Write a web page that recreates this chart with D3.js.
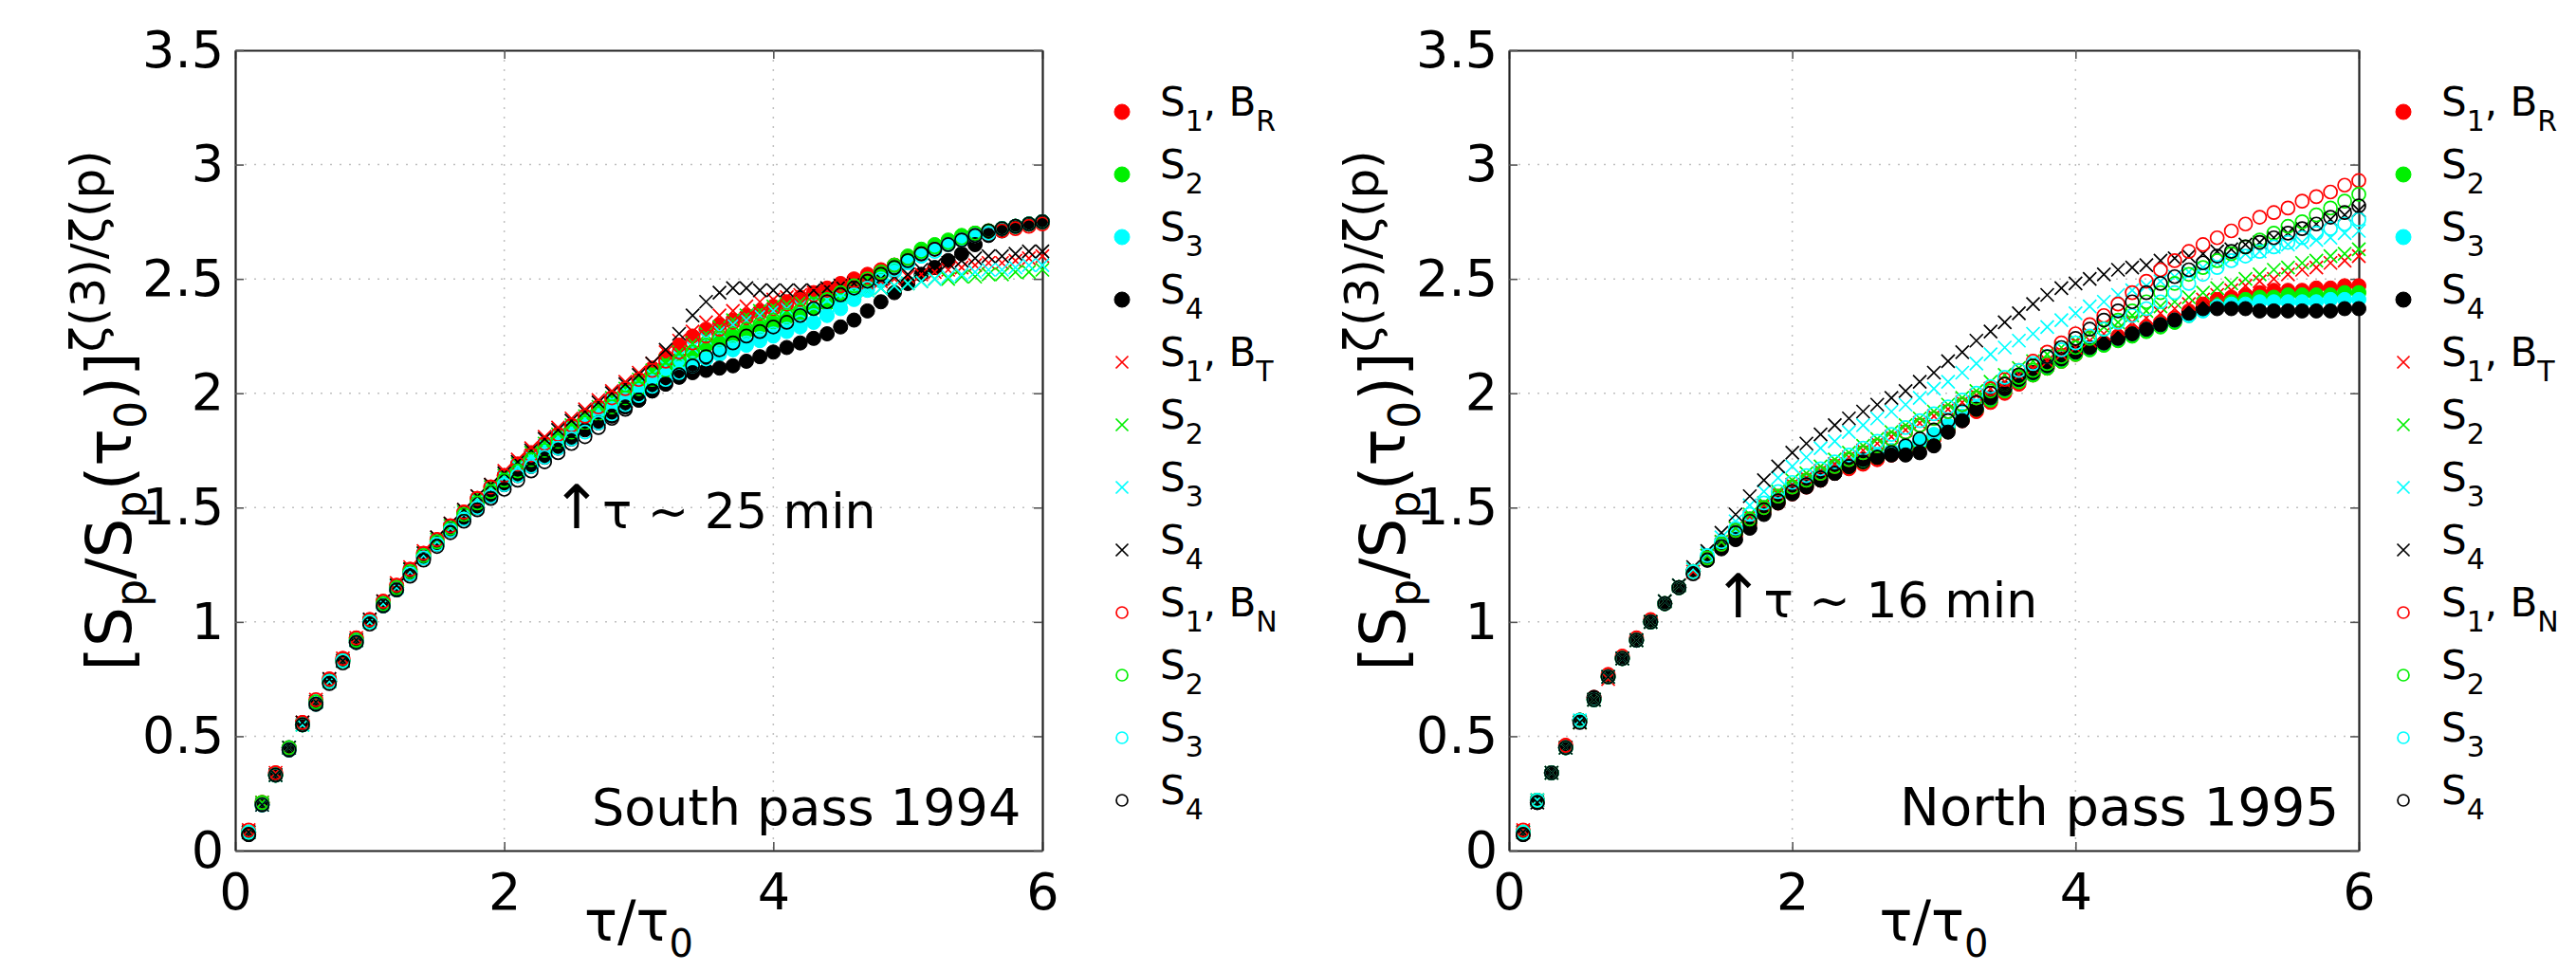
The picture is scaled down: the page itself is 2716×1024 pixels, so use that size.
<!DOCTYPE html>
<html><head><meta charset="utf-8">
<script src="https://cdn.jsdelivr.net/npm/d3@7"></script>
<style>
body{margin:0;background:#fff}
svg text{font-family:"DejaVu Sans",Verdana,sans-serif;fill:#000}
</style>
</head><body>
<svg id="c" width="2716" height="1024"></svg>
<script>
// ---------- data ----------
const tau = [0.1,0.2,0.3,0.4,0.5,0.6,0.7,0.8,0.9,1.0,1.1,1.2,1.3,1.4,1.5,1.6,1.7,1.8,1.9,2.0,
 2.1,2.2,2.3,2.4,2.5,2.6,2.7,2.8,2.9,3.0,3.1,3.2,3.3,3.4,3.5,3.6,3.7,3.8,3.9,4.0,
 4.1,4.2,4.3,4.4,4.5,4.6,4.7,4.8,4.9,5.0,5.1,5.2,5.3,5.4,5.5,5.6,5.7,5.8,5.9,6.0];

// South pass 1994
const south_BR_S1 = [0.08,0.21,0.34,0.45,0.56,0.65,0.75,0.84,0.93,1.01, 1.09,1.16,1.23,1.30,1.36,1.42,1.48,1.54,1.59,1.64, 1.69,1.74,1.78,1.82,1.86,1.90,1.94,1.98,2.02,2.06, 2.11,2.16,2.21,2.25,2.28,2.30,2.32,2.34,2.36,2.38, 2.40,2.42,2.44,2.46,2.48,2.50,2.52,2.54,2.56,2.59, 2.62,2.64,2.66,2.68,2.70,2.71,2.72,2.73,2.74,2.75];
const south_BR_S2 = [0.08,0.21,0.33,0.45,0.55,0.65,0.74,0.83,0.92,1.00, 1.08,1.15,1.22,1.29,1.35,1.41,1.47,1.53,1.58,1.63, 1.68,1.72,1.76,1.80,1.84,1.88,1.92,1.96,2.00,2.04, 2.08,2.12,2.15,2.18,2.21,2.23,2.25,2.27,2.29,2.31, 2.33,2.35,2.37,2.39,2.42,2.45,2.48,2.52,2.56,2.60, 2.63,2.65,2.67,2.69,2.70,2.71,2.72,2.73,2.74,2.75];
const south_BR_S3 = [0.08,0.20,0.33,0.45,0.55,0.65,0.74,0.83,0.92,1.00, 1.08,1.15,1.22,1.29,1.35,1.41,1.46,1.52,1.57,1.62, 1.66,1.70,1.74,1.78,1.82,1.86,1.90,1.94,1.97,2.01, 2.05,2.08,2.11,2.13,2.15,2.17,2.19,2.21,2.23,2.25, 2.27,2.29,2.31,2.34,2.37,2.41,2.45,2.49,2.53,2.57, 2.60,2.63,2.65,2.67,2.69,2.70,2.72,2.73,2.74,2.75];
const south_BR_S4 = [0.07,0.20,0.33,0.44,0.55,0.64,0.74,0.83,0.91,1.00, 1.07,1.14,1.21,1.28,1.34,1.40,1.45,1.50,1.55,1.60, 1.64,1.68,1.72,1.76,1.80,1.84,1.87,1.90,1.94,1.97, 2.01,2.04,2.07,2.09,2.10,2.11,2.12,2.14,2.16,2.18, 2.20,2.22,2.24,2.26,2.29,2.32,2.36,2.40,2.44,2.48, 2.52,2.55,2.58,2.61,2.65,2.69,2.71,2.73,2.74,2.75];
const south_BT_S1 = [0.09,0.21,0.34,0.45,0.56,0.66,0.75,0.84,0.93,1.01, 1.09,1.17,1.24,1.31,1.37,1.43,1.49,1.55,1.60,1.66, 1.71,1.76,1.81,1.85,1.89,1.93,1.97,2.01,2.05,2.09, 2.13,2.18,2.23,2.27,2.31,2.34,2.36,2.38,2.40,2.41, 2.42,2.43,2.44,2.45,2.46,2.47,2.48,2.49,2.50,2.51, 2.52,2.53,2.54,2.55,2.56,2.57,2.57,2.58,2.59,2.60];
const south_BT_S2 = [0.08,0.21,0.33,0.45,0.55,0.65,0.74,0.83,0.92,1.00, 1.08,1.16,1.23,1.30,1.36,1.42,1.48,1.53,1.59,1.64, 1.69,1.74,1.78,1.82,1.86,1.90,1.94,1.98,2.02,2.06, 2.10,2.14,2.18,2.22,2.26,2.29,2.32,2.34,2.36,2.38, 2.39,2.40,2.41,2.42,2.43,2.44,2.45,2.46,2.47,2.48, 2.49,2.50,2.50,2.51,2.51,2.52,2.52,2.53,2.53,2.54];
const south_BT_S3 = [0.08,0.20,0.33,0.45,0.55,0.65,0.74,0.83,0.92,1.00, 1.08,1.15,1.22,1.29,1.35,1.41,1.47,1.53,1.58,1.63, 1.68,1.72,1.77,1.81,1.85,1.89,1.93,1.97,2.01,2.04, 2.08,2.12,2.16,2.20,2.24,2.27,2.30,2.32,2.34,2.36, 2.37,2.38,2.40,2.41,2.42,2.44,2.45,2.46,2.47,2.48, 2.49,2.50,2.51,2.52,2.53,2.54,2.54,2.55,2.56,2.56];
const south_BT_S4 = [0.08,0.20,0.33,0.45,0.56,0.65,0.75,0.83,0.92,1.01, 1.09,1.16,1.23,1.30,1.37,1.43,1.49,1.55,1.60,1.65, 1.70,1.75,1.80,1.84,1.88,1.92,1.96,2.00,2.04,2.08, 2.13,2.19,2.26,2.34,2.40,2.44,2.46,2.46,2.45,2.45, 2.45,2.45,2.45,2.46,2.47,2.48,2.49,2.50,2.51,2.52, 2.54,2.56,2.57,2.58,2.59,2.60,2.60,2.61,2.62,2.62];
const south_BN_S1 = [0.09,0.21,0.34,0.45,0.56,0.66,0.75,0.84,0.93,1.01, 1.09,1.16,1.23,1.30,1.36,1.42,1.48,1.54,1.59,1.64, 1.69,1.73,1.78,1.82,1.86,1.90,1.94,1.98,2.02,2.06, 2.10,2.14,2.18,2.22,2.25,2.28,2.31,2.33,2.35,2.37, 2.39,2.41,2.43,2.45,2.47,2.49,2.51,2.53,2.56,2.59, 2.61,2.63,2.65,2.67,2.69,2.70,2.71,2.72,2.73,2.74];
const south_BN_S2 = [0.08,0.21,0.33,0.45,0.55,0.65,0.74,0.83,0.92,1.00, 1.08,1.15,1.22,1.29,1.35,1.41,1.47,1.52,1.57,1.62, 1.66,1.71,1.75,1.79,1.83,1.87,1.91,1.94,1.98,2.02, 2.06,2.10,2.14,2.18,2.21,2.24,2.26,2.28,2.30,2.32, 2.34,2.36,2.39,2.41,2.44,2.47,2.50,2.53,2.56,2.59, 2.62,2.64,2.66,2.68,2.70,2.71,2.72,2.73,2.74,2.75];
const south_BN_S3 = [0.08,0.20,0.33,0.44,0.55,0.64,0.74,0.83,0.91,1.00, 1.07,1.14,1.21,1.28,1.34,1.40,1.45,1.50,1.55,1.60, 1.64,1.68,1.72,1.76,1.80,1.83,1.87,1.91,1.95,1.99, 2.03,2.06,2.09,2.12,2.15,2.18,2.20,2.22,2.24,2.26, 2.28,2.31,2.34,2.37,2.40,2.43,2.46,2.50,2.54,2.57, 2.60,2.62,2.65,2.67,2.69,2.70,2.72,2.73,2.74,2.75];
const south_BN_S4 = [0.07,0.20,0.33,0.44,0.55,0.64,0.73,0.82,0.91,0.99, 1.07,1.14,1.20,1.27,1.33,1.39,1.44,1.49,1.54,1.58, 1.62,1.66,1.70,1.74,1.78,1.81,1.85,1.89,1.93,1.97, 2.01,2.04,2.08,2.12,2.16,2.19,2.22,2.25,2.27,2.29, 2.31,2.34,2.37,2.40,2.43,2.46,2.49,2.52,2.55,2.58, 2.61,2.63,2.65,2.67,2.69,2.71,2.72,2.73,2.74,2.75];

// North pass 1995
const north_BR_S1 = [0.08,0.22,0.34,0.46,0.57,0.67,0.77,0.85,0.93,1.01, 1.08,1.15,1.22,1.28,1.33,1.38,1.43,1.48,1.52,1.56, 1.59,1.62,1.65,1.67,1.69,1.71,1.73,1.75,1.77,1.80, 1.84,1.88,1.92,1.96,2.00,2.04,2.08,2.11,2.14,2.17, 2.20,2.22,2.25,2.27,2.29,2.31,2.33,2.36,2.39,2.41, 2.42,2.43,2.44,2.45,2.45,2.45,2.46,2.46,2.47,2.47];
const north_BR_S2 = [0.08,0.22,0.34,0.45,0.57,0.66,0.76,0.84,0.92,1.00, 1.08,1.15,1.22,1.28,1.34,1.39,1.44,1.49,1.53,1.57, 1.60,1.63,1.66,1.68,1.70,1.72,1.74,1.76,1.78,1.81, 1.85,1.89,1.93,1.97,2.01,2.05,2.08,2.11,2.14,2.17, 2.19,2.21,2.23,2.25,2.27,2.29,2.31,2.34,2.37,2.39, 2.40,2.41,2.42,2.42,2.43,2.43,2.43,2.43,2.44,2.44];
const north_BR_S3 = [0.08,0.22,0.34,0.45,0.57,0.66,0.76,0.84,0.92,1.00, 1.08,1.15,1.22,1.28,1.34,1.40,1.45,1.50,1.54,1.58, 1.61,1.64,1.67,1.69,1.71,1.73,1.75,1.77,1.79,1.82, 1.86,1.90,1.94,1.98,2.02,2.06,2.09,2.12,2.15,2.18, 2.20,2.22,2.24,2.26,2.28,2.30,2.32,2.34,2.36,2.38, 2.39,2.39,2.40,2.40,2.40,2.40,2.40,2.41,2.41,2.41];
const north_BR_S4 = [0.07,0.21,0.34,0.45,0.57,0.67,0.76,0.84,0.92,1.00, 1.08,1.15,1.22,1.27,1.32,1.36,1.41,1.47,1.52,1.56, 1.59,1.62,1.65,1.68,1.71,1.72,1.73,1.73,1.74,1.77, 1.83,1.88,1.93,1.98,2.02,2.06,2.09,2.12,2.15,2.18, 2.20,2.22,2.24,2.26,2.28,2.30,2.32,2.35,2.37,2.37, 2.37,2.37,2.36,2.36,2.36,2.36,2.36,2.36,2.37,2.37];
const north_BT_S1 = [0.09,0.22,0.34,0.45,0.56,0.66,0.75,0.84,0.92,1.00, 1.09,1.16,1.22,1.29,1.35,1.41,1.46,1.51,1.56,1.60, 1.63,1.66,1.69,1.72,1.75,1.78,1.81,1.84,1.87,1.90, 1.93,1.96,1.99,2.02,2.05,2.08,2.11,2.14,2.17,2.20, 2.23,2.26,2.28,2.31,2.33,2.35,2.37,2.39,2.41,2.43, 2.45,2.47,2.49,2.50,2.52,2.54,2.55,2.57,2.58,2.60];
const north_BT_S2 = [0.08,0.22,0.34,0.45,0.56,0.66,0.76,0.84,0.92,1.00, 1.09,1.16,1.23,1.29,1.35,1.41,1.47,1.52,1.57,1.62, 1.65,1.68,1.71,1.74,1.77,1.80,1.83,1.86,1.89,1.92, 1.95,1.98,2.01,2.05,2.08,2.11,2.14,2.17,2.20,2.23, 2.26,2.29,2.31,2.34,2.36,2.38,2.40,2.42,2.44,2.46, 2.48,2.50,2.52,2.54,2.55,2.57,2.58,2.60,2.61,2.63];
const north_BT_S3 = [0.08,0.22,0.34,0.45,0.57,0.66,0.76,0.84,0.92,1.00, 1.09,1.16,1.23,1.30,1.37,1.44,1.51,1.57,1.63,1.68, 1.72,1.76,1.79,1.83,1.86,1.89,1.92,1.95,1.98,2.02, 2.05,2.09,2.13,2.17,2.20,2.23,2.26,2.29,2.32,2.35, 2.38,2.40,2.43,2.45,2.47,2.49,2.51,2.53,2.55,2.57, 2.59,2.61,2.62,2.64,2.65,2.66,2.67,2.68,2.70,2.71];
const north_BT_S4 = [0.08,0.21,0.34,0.45,0.56,0.66,0.76,0.84,0.92,1.00, 1.09,1.16,1.24,1.31,1.39,1.47,1.55,1.62,1.68,1.74, 1.78,1.82,1.86,1.89,1.92,1.95,1.98,2.01,2.05,2.09, 2.14,2.18,2.23,2.27,2.31,2.35,2.39,2.43,2.46,2.48, 2.50,2.52,2.54,2.55,2.56,2.58,2.59,2.60,2.61,2.62, 2.63,2.65,2.66,2.68,2.70,2.72,2.74,2.76,2.78,2.80];
const north_BN_S1 = [0.09,0.22,0.34,0.46,0.57,0.66,0.76,0.84,0.92,1.00, 1.08,1.15,1.22,1.28,1.34,1.40,1.45,1.50,1.55,1.59, 1.62,1.65,1.68,1.71,1.74,1.77,1.80,1.83,1.86,1.89, 1.92,1.95,1.98,2.02,2.06,2.10,2.14,2.18,2.22,2.26, 2.30,2.34,2.39,2.44,2.49,2.54,2.58,2.62,2.65,2.68, 2.71,2.74,2.77,2.79,2.81,2.84,2.86,2.88,2.91,2.93];
const north_BN_S2 = [0.08,0.22,0.34,0.45,0.57,0.66,0.76,0.84,0.92,1.00, 1.08,1.15,1.22,1.28,1.34,1.40,1.45,1.50,1.55,1.59, 1.62,1.65,1.68,1.71,1.74,1.77,1.80,1.83,1.86,1.89, 1.92,1.95,1.98,2.01,2.04,2.07,2.10,2.13,2.16,2.20, 2.24,2.28,2.32,2.36,2.40,2.44,2.48,2.52,2.55,2.58, 2.61,2.64,2.67,2.70,2.73,2.75,2.78,2.81,2.84,2.87];
const north_BN_S3 = [0.08,0.22,0.34,0.45,0.57,0.66,0.76,0.84,0.92,1.00, 1.08,1.15,1.22,1.29,1.35,1.41,1.47,1.52,1.57,1.61, 1.64,1.67,1.70,1.73,1.76,1.79,1.82,1.85,1.88,1.91, 1.94,1.97,2.00,2.03,2.07,2.10,2.13,2.16,2.19,2.22, 2.25,2.28,2.31,2.34,2.37,2.40,2.44,2.48,2.52,2.55, 2.58,2.60,2.62,2.64,2.66,2.68,2.70,2.72,2.74,2.76];
const north_BN_S4 = [0.07,0.21,0.34,0.45,0.56,0.66,0.76,0.84,0.92,1.00, 1.08,1.15,1.21,1.27,1.33,1.39,1.44,1.49,1.53,1.57, 1.60,1.63,1.65,1.68,1.70,1.72,1.74,1.77,1.80,1.84, 1.88,1.92,1.96,2.00,2.04,2.08,2.12,2.16,2.20,2.24, 2.28,2.32,2.36,2.40,2.44,2.48,2.51,2.54,2.57,2.60, 2.62,2.64,2.66,2.68,2.70,2.72,2.74,2.77,2.79,2.82];

const xTicks = [0,2,4,6];
const xTickLabels = ["0","2","4","6"];
const yTicks = [0,0.5,1,1.5,2,2.5,3,3.5];
const yTickLabels = ["0","0.5","1","1.5","2","2.5","3","3.5"];

const legendSubs = ["1","2","3","4","1","2","3","4","1","2","3","4"];
const legendField = ["R",null,null,null,"T",null,null,null,"N",null,null,null];

const southTitle = "South pass 1994";
const northTitle = "North pass 1995";
const southNote = "τ ~ 25 min";
const northNote = "τ ~ 16 min";

// ---------- styles ----------
const colors = ["#ff0000","#00f000","#00ffff","#000000"];
const markerKinds = ["filled","filled","filled","filled","cross","cross","cross","cross","open","open","open","open"];
const seriesColor = i => colors[i % 4];

const FONT = "'DejaVu Sans', Verdana, sans-serif";
const svg = d3.select("#c");
svg.append("rect").attr("width",2716).attr("height",1024).attr("fill","#fff");

const panels = [
  {x0:248, x1:1099, series:[south_BR_S1,south_BR_S2,south_BR_S3,south_BR_S4,south_BT_S1,south_BT_S2,south_BT_S3,south_BT_S4,south_BN_S1,south_BN_S2,south_BN_S3,south_BN_S4],
   title:southTitle, titleX:5.84, titleSize:54, note:southNote, arrowX:2.54, noteY:1.41, legX:1183},
  {x0:1591, x1:2487, series:[north_BR_S1,north_BR_S2,north_BR_S3,north_BR_S4,north_BT_S1,north_BT_S2,north_BT_S3,north_BT_S4,north_BN_S1,north_BN_S2,north_BN_S3,north_BN_S4],
   title:northTitle, titleX:5.86, titleSize:56, note:northNote, arrowX:1.62, noteY:1.02, legX:2534}
];
const yTop = 53, yBot = 897;

function drawMarker(g, kind, color, cx, cy, s) {
  if (kind === "filled") {
    g.append("circle").attr("cx",cx).attr("cy",cy).attr("r",s)
      .attr("fill",color).attr("stroke",color).attr("stroke-width",1);
  } else if (kind === "open") {
    g.append("circle").attr("cx",cx).attr("cy",cy).attr("r",s)
      .attr("fill","none").attr("stroke",color).attr("stroke-width",1.7);
  } else {
    g.append("path").attr("d",`M${cx-s},${cy-s}L${cx+s},${cy+s}M${cx-s},${cy+s}L${cx+s},${cy-s}`)
      .attr("stroke",color).attr("stroke-width",1.7).attr("fill","none");
  }
}

panels.forEach(p => {
  const x = d3.scaleLinear().domain([0,6]).range([p.x0,p.x1]);
  const y = d3.scaleLinear().domain([0,3.5]).range([yBot,yTop]);
  const g = svg.append("g");

  // grid
  const grid = g.append("g").attr("stroke","#c0c0c0").attr("stroke-width",1.5).attr("stroke-dasharray","2,8");
  xTicks.filter(t => t>0 && t<6).forEach(t => grid.append("line").attr("x1",x(t)).attr("x2",x(t)).attr("y1",yTop).attr("y2",yBot));
  yTicks.filter(t => t>0 && t<3.5).forEach(t => grid.append("line").attr("x1",p.x0).attr("x2",p.x1).attr("y1",y(t)).attr("y2",y(t)));

  // axes
  const styleAxis = sel => {
    sel.attr("font-family",FONT).attr("font-size",54);
    sel.select(".domain").attr("stroke","#222").attr("stroke-width",2.2);
    sel.selectAll(".tick line").attr("stroke","#555").attr("stroke-width",1.6);
    sel.selectAll(".tick text").attr("fill","#000");
  };
  g.append("g").attr("transform",`translate(0,${yBot})`)
    .call(d3.axisBottom(x).tickValues(xTicks).tickFormat((d,i)=>xTickLabels[i]).tickSizeInner(-9).tickSizeOuter(0).tickPadding(24))
    .call(styleAxis);
  g.append("g").attr("transform",`translate(0,${yTop})`)
    .call(d3.axisTop(x).tickValues(xTicks).tickFormat("").tickSizeInner(-9).tickSizeOuter(0))
    .call(styleAxis);
  g.append("g").attr("transform",`translate(${p.x0},0)`)
    .call(d3.axisLeft(y).tickValues(yTicks).tickFormat((d,i)=>yTickLabels[i]).tickSizeInner(-9).tickSizeOuter(0).tickPadding(12))
    .call(styleAxis);
  g.append("g").attr("transform",`translate(${p.x1},0)`)
    .call(d3.axisRight(y).tickValues(yTicks).tickFormat("").tickSizeInner(-9).tickSizeOuter(0))
    .call(styleAxis);

  // series
  p.series.forEach((vals, si) => {
    const sg = g.append("g");
    const k = markerKinds[si];
    vals.forEach((v, i) => drawMarker(sg, k, seriesColor(si), x(tau[i]), y(v), k==="filled"?7.5:7));
  });

  // panel label
  g.append("text").attr("x",x(p.titleX)).attr("y",y(0.11)).attr("text-anchor","end")
    .attr("font-size",p.titleSize).text(p.title);

  // annotation (arrow + text in one element)
  const nt = g.append("text").attr("x",x(p.arrowX) - 27).attr("y",y(p.noteY)).attr("font-size",52);
  nt.append("tspan").attr("font-size",64).text("↑");
  nt.append("tspan").text(p.note);

  // y label
  const ycx = p.x0 - 110, ycy = 433;
  const yl = g.append("text").attr("transform",`translate(${ycx},${ycy}) rotate(-90)`)
    .attr("text-anchor","middle").attr("font-size",66);
  yl.append("tspan").text("[S");
  yl.append("tspan").attr("font-size",46).attr("dy",16).text("p");
  yl.append("tspan").attr("dy",-16).text("/S");
  yl.append("tspan").attr("font-size",46).attr("dy",16).text("p");
  yl.append("tspan").attr("dy",-16).text("(τ");
  yl.append("tspan").attr("font-size",46).attr("dy",16).text("0");
  yl.append("tspan").attr("dy",-16).text(")]");
  yl.append("tspan").attr("font-size",50).attr("dy",-28).text("ζ(3)/ζ(p)");

  // x label
  const xl = g.append("text").attr("x",(p.x0+p.x1)/2).attr("y",992).attr("text-anchor","middle").attr("font-size",58);
  xl.append("tspan").text("τ/τ");
  xl.append("tspan").attr("font-size",40).attr("dy",17).text("0");

  // legend
  const lg = g.append("g");
  const legY0 = 118, legStep = 66;
  markerKinds.forEach((k, i) => {
    const ly = legY0 + i*legStep;
    drawMarker(lg, k, seriesColor(i), p.legX, ly, k==="filled"?8:(k==="open"?6:6.5));
    const t = lg.append("text").attr("x",p.legX+40).attr("y",ly+4).attr("font-size",42);
    t.append("tspan").text("S");
    t.append("tspan").attr("font-size",30).attr("dy",16).text(legendSubs[i]);
    if (legendField[i]) {
      t.append("tspan").attr("dy",-16).text(", B");
      t.append("tspan").attr("font-size",30).attr("dy",16).text(legendField[i]);
    }
  });
});
</script>
</body></html>
